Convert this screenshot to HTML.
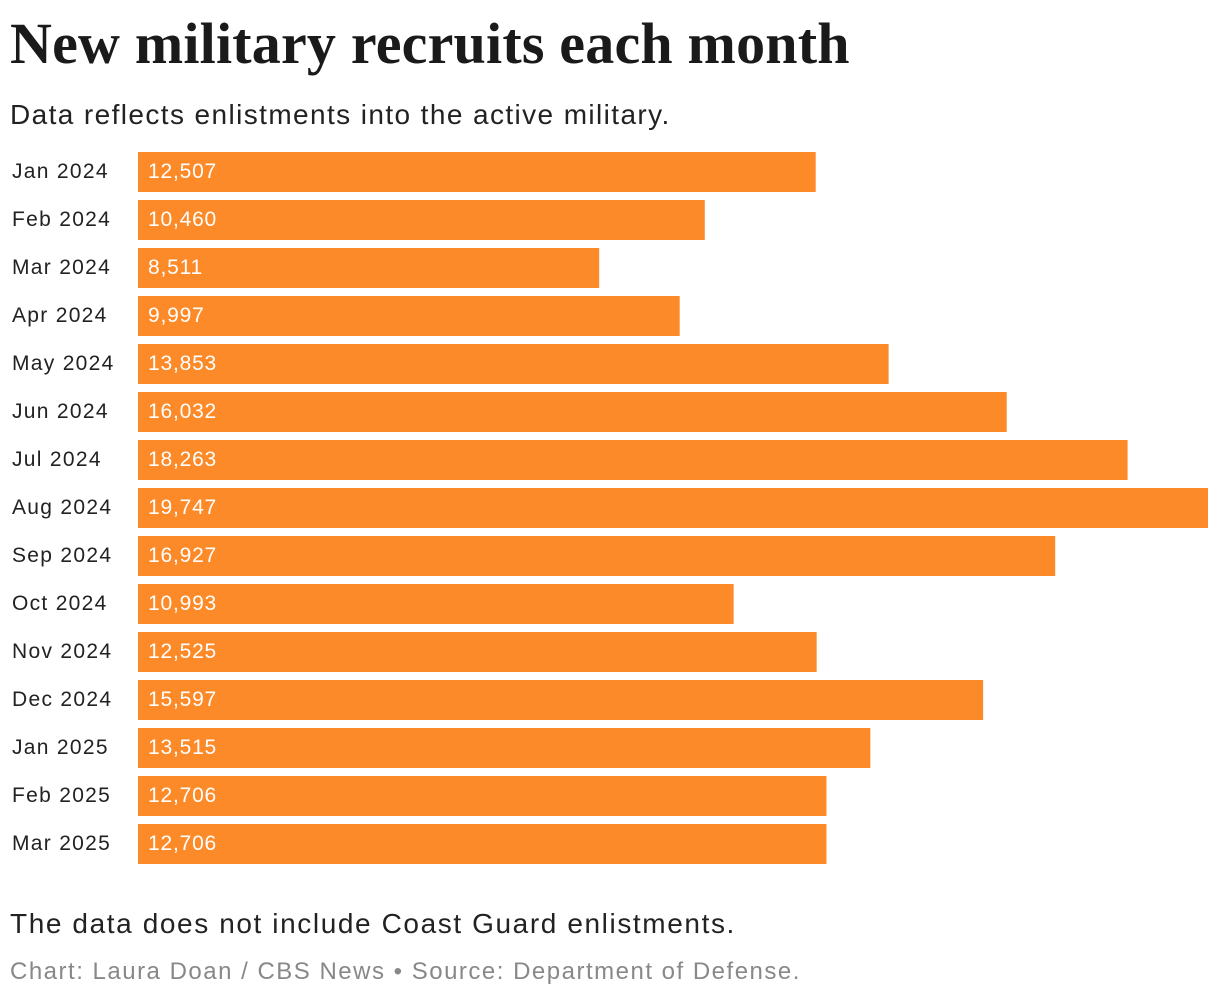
<!DOCTYPE html>
<html><head><meta charset="utf-8">
<style>
body{margin:0;width:1220px;height:998px;background:#fff;font-family:"Liberation Sans",sans-serif;overflow:hidden;position:relative}
.t{position:absolute;left:10px;top:10px;font-family:"Liberation Serif",serif;font-weight:bold;font-size:58px;letter-spacing:0.2px;color:#1a1a1a;white-space:nowrap}
.s{position:absolute;left:10px;top:99px;font-size:28px;letter-spacing:1.4px;color:#222;white-space:nowrap}
.n{position:absolute;left:10px;top:908px;font-size:28px;letter-spacing:1.6px;color:#222;white-space:nowrap}
.src{position:absolute;left:10px;top:958px;font-size:24px;letter-spacing:1.5px;color:#888;white-space:nowrap}
svg{position:absolute;left:0;top:0}
</style></head><body>
<div class="t">New military recruits each month</div>
<div class="s">Data reflects enlistments into the active military.</div>
<svg id="chart" width="1220" height="998"></svg>
<div class="n">The data does not include Coast Guard enlistments.</div>
<div class="src">Chart: Laura Doan / CBS News • Source: Department of Defense.</div>
<script>
const categories=["Jan 2024","Feb 2024","Mar 2024","Apr 2024","May 2024","Jun 2024","Jul 2024","Aug 2024","Sep 2024","Oct 2024","Nov 2024","Dec 2024","Jan 2025","Feb 2025","Mar 2025"];
const values=[12507,10460,8511,9997,13853,16032,18263,19747,16927,10993,12525,15597,13515,12706,12706];
const maxVal=19747;
const x0=138,x1=1208,y0=152,step=48,bh=40;
const xs=v=>(v/maxVal)*(x1-x0);
const ys=i=>y0+i*step;
const svg=document.getElementById('chart');
const NS="http://www.w3.org/2000/svg";
categories.forEach((c,i)=>{
  const lab=document.createElementNS(NS,'text');
  
  
  lab.setAttribute('x',12);lab.setAttribute('y',ys(i)+bh/2+6);
  lab.setAttribute('font-size','21');lab.setAttribute('letter-spacing','1.3');lab.setAttribute('fill','#222');
  lab.textContent=c;svg.appendChild(lab);
  const r=document.createElementNS(NS,'rect');
  
  
  r.setAttribute('x',x0);r.setAttribute('y',ys(i));
  r.setAttribute('width',xs(values[i]));r.setAttribute('height',bh);
  r.setAttribute('fill','#fd8a28');svg.appendChild(r);
  const v=document.createElementNS(NS,'text');
  
  
  v.setAttribute('x',x0+10);v.setAttribute('y',ys(i)+bh/2+6);
  v.setAttribute('font-size','21');v.setAttribute('letter-spacing','0.8');v.setAttribute('fill','#fff');
  v.textContent=values[i].toLocaleString('en-US');svg.appendChild(v);
});
</script>
</body></html>
